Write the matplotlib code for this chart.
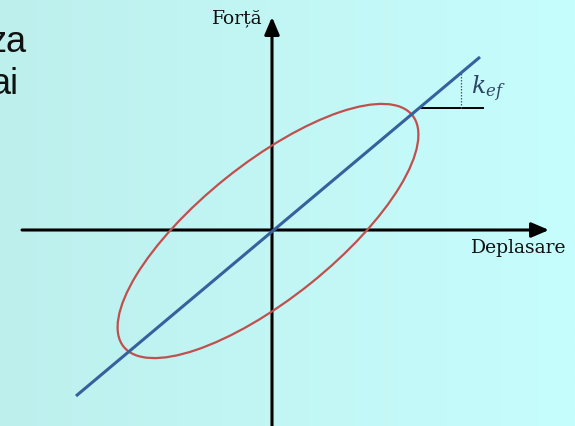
import numpy as np
import matplotlib
matplotlib.use('Agg')
import matplotlib.pyplot as plt
from matplotlib.patches import Ellipse, FancyArrowPatch

# axis extents (displacement / force units)
x_axis = [-250, 277]
y_axis = [-196, 213]

# effective stiffness line
kef_x = [-196, 208]
kef_y = [-166, 173]

# hysteresis loop: center, width, height, tilt angle
loop_center = (-4, -1)
loop_width = 370
loop_height = 135
loop_angle = 38.7

# stiffness triangle marker
step_x = [147, 211]
step_y = 122
tick_x = 189

force_label = 'Forță'
disp_label = 'Deplasare'
slope_label = r'$k_{ef}$'
side_text = ['za', 'ai']

fig = plt.figure(figsize=(5.75, 4.26), dpi=100)
ax = fig.add_axes([0, 0, 1, 1])
ax.set_xlim(-272, 303)
ax.set_ylim(-196, 230)
ax.axis('off')

# background gradient, teal on the left fading to pale cyan
c_left = np.array([189, 240, 237]) / 255
c_right = np.array([198, 253, 253]) / 255
t = np.linspace(0, 1, 256)
grad = (c_left[None, :] * (1 - t[:, None]) + c_right[None, :] * t[:, None])[None, :, :]
ax.imshow(grad, extent=[-272, 303, -196, 230], aspect='auto', zorder=0)

# axes with arrowheads
for xs, ys in [(x_axis, [0, 0]), ([0, 0], y_axis)]:
    arr = FancyArrowPatch((xs[0], ys[0]), (xs[1], ys[1]),
                          arrowstyle='-|>,head_length=0.75,head_width=0.32',
                          mutation_scale=14, color='black', lw=2.2,
                          shrinkA=0, shrinkB=0, zorder=2)
    ax.add_patch(arr)

ax.plot(kef_x, kef_y, color='#35619c', lw=2.2, solid_capstyle='butt', zorder=4)

loop = Ellipse(loop_center, loop_width, loop_height, angle=loop_angle,
               fill=False, edgecolor='#c0504d', lw=1.6, zorder=3)
ax.add_patch(loop)

ax.plot(step_x, [step_y, step_y], color='black', lw=1.4, zorder=3)
ax.plot([tick_x, tick_x], [step_y, kef_y[1] / kef_x[1] * tick_x], color='#555555',
        lw=0.9, ls=(0, (1.2, 1.2)), zorder=3)

ax.text(-9, 212, force_label, family='DejaVu Serif', fontsize=13.5,
        ha='right', va='center', color='#111111')
ax.text(294, -18, disp_label, family='DejaVu Serif', fontsize=13.5,
        ha='right', va='center', color='#111111')
ax.text(199, 141, slope_label, fontsize=17, ha='left', va='center',
        color='#2c4566', math_fontfamily='dejavuserif')

ax.text(-245, 187, side_text[0], family='Liberation Sans', fontsize=26,
        ha='right', va='center', color='#111111')
ax.text(-254, 146, side_text[1], family='Liberation Sans', fontsize=26,
        ha='right', va='center', color='#111111')

fig.savefig('out.png', dpi=100)
